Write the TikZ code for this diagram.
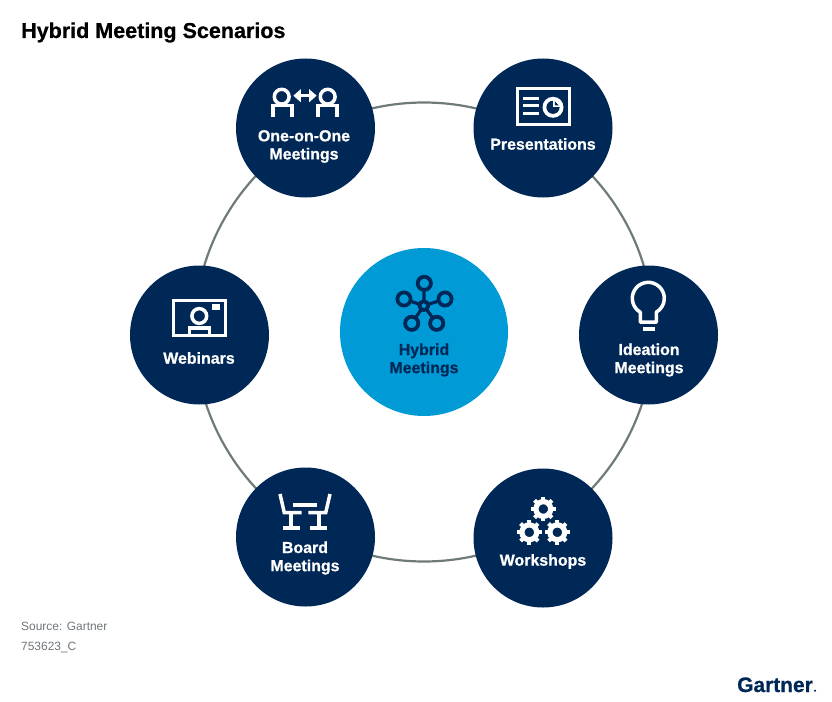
\documentclass[tikz,border=0pt]{standalone}
\usepackage{fontspec}
\setmainfont[BoldFeatures={FakeBold=0.7}]{Liberation Sans}
\definecolor{navy}{HTML}{002856}
\definecolor{sky}{HTML}{009AD7}
\definecolor{ringgray}{HTML}{6F7B78}
\definecolor{srcgray}{HTML}{70777C}
\tikzset{
  x=1bp,y=-1bp,
  hub/.style={circle,fill=navy,draw=none,minimum size=139bp,inner sep=0pt},
  core/.style={circle,fill=sky,draw=none,minimum size=168bp,inner sep=0pt},
  lab/.style={align=center,inner sep=0pt,text=white,font=\fontsize{16}{18.2}\selectfont\bfseries},
  labdark/.style={lab,text=navy},
  ico/.style={draw=white,line width=3.5bp,fill=none,line cap=butt,line join=miter},
  net/.style={draw=navy,line width=3.8bp,fill=none},
  src/.style={anchor=base west,inner sep=0pt,text=srcgray,font=\fontsize{12}{15}\selectfont},
}
\newcommand{\gearicon}[2]{%
  \draw[white,line width=5.2bp] (#1,#2) circle[radius=7.4];
  \foreach \a in {0,45,...,315}{
    \draw[white,line width=4bp] ($(#1,#2)+(\a:8)$) -- ($(#1,#2)+(\a:12.3)$);
  }
}
\usetikzlibrary{calc,arrows.meta}
\begin{document}
\begin{tikzpicture}
\useasboundingbox (0,0) rectangle (832,702);
\fill[white] (0,0) rectangle (832,702);
% ring
\node[circle,draw=ringgray,line width=2.2bp,minimum size=459bp,inner sep=0pt] (ring) at (424,332) {};
% circles
\node[core] (hybrid) at (424,332) {};
\node[hub] (one) at (305.5,128) {};
\node[hub] (pres) at (543,128) {};
\node[hub] (web) at (199.5,335) {};
\node[hub] (idea) at (648.5,335) {};
\node[hub] (board) at (305.5,537) {};
\node[hub] (work) at (543,538) {};
% title
\node[anchor=base west,inner sep=0pt,font=\fontsize{21.6}{24}\selectfont\bfseries,text=black] (title) at (21,38) {Hybrid Meeting Scenarios};
% labels
\node[lab] (lone) at (304,146.5) {One-on-One\\Meetings};
\node[lab] (lpres) at (543,144) {Presentations};
\node[lab] (lweb) at (199,358) {Webinars};
\node[lab] (lidea) at (649,360) {Ideation\\Meetings};
\node[lab] (lboard) at (305,558) {Board\\Meetings};
\node[lab] (lwork) at (543,561.5) {Workshops};
\node[labdark] (lhyb) at (424,360) {Hybrid\\Meetings};
% source
\node[src] (s1) at (21,630.5) {Source: Gartner};
\node[src] (s2) at (21,650.5) {753623\_C};
% logo
\node[anchor=base west,inner sep=0pt,text=navy,font=\fontsize{21}{26}\selectfont\bfseries] (logo) at (737,692) {Gartner};
\fill[navy] (815,690.7) circle[radius=1.2];
% one-on-one icon
\draw[ico] (281.7,96.7) circle[radius=7.4];
\draw[ico] (272.8,117) -- (272.8,105.7) -- (291.8,105.7) -- (291.8,117);
\draw[ico] (327.7,96.7) circle[radius=7.4];
\draw[ico] (318.2,117) -- (318.2,105.7) -- (337.2,105.7) -- (337.2,117);
\draw[white,line width=3bp,{Triangle[width=12.5bp,length=7.5bp]}-{Triangle[width=12.5bp,length=7.5bp]}] (293.3,95.7) -- (316.7,95.7);
% presentation icon
\draw[ico] (517.4,88.4) rectangle (569.6,124.3);
\foreach \yy in {98.3,105.9,114}{\draw[white,line width=3bp] (523,\yy) -- (539,\yy);}
\fill[white] (553,107.3) circle[radius=10.5];
\fill[navy] (553,107.3) circle[radius=6.6];
\fill[white] (553,107.3) -- (553,100) -- (560.5,100) -- (560.5,107.3) -- cycle;
\fill[navy] (554.8,105.5) -- (554.8,101.2) -- (558.8,105.5) -- cycle;
% webinar icon
\draw[ico] (173.4,300.7) rectangle (225.6,335.6);
\fill[white] (211.7,304) rectangle (220,310);
\draw[ico] (199.3,316) circle[radius=7.4];
\draw[ico] (189.5,335.8) -- (189.5,327.8) -- (209.5,327.8) -- (209.5,335.8);
% hybrid icon
\coordinate (hc) at (423.8,305.7);
\foreach \n/\px/\py in {a/424.3/283.3,b/404/299,c/445/299,d/411.7/323.3,e/436.7/323.3}{
  \draw[navy,line width=3.2bp] (hc) -- (\px,\py);
  \fill[sky] (\px,\py) circle[radius=6];
  \draw[net] (\px,\py) circle[radius=6.6];
}
\fill[sky] (hc) circle[radius=4];
\draw[net] (hc) circle[radius=4.4];
% bulb
\draw[ico,line join=round] (640.3,322.2) -- (640.3,312.2) arc[start angle=120,end angle=420,radius=16] -- (656.3,322.2) -- cycle;
\fill[white] (642.7,326.7) rectangle (655,330.7);
% board icon
\draw[ico] (280,494) -- (284.3,512.7) -- (301.7,512.7);
\draw[ico] (291,512.7) -- (291,528);
\draw[ico] (283.3,528) -- (300,528);
\draw[ico] (330,494) -- (325.7,512.7) -- (308.3,512.7);
\draw[ico] (319,512.7) -- (319,528);
\draw[ico] (310,528) -- (326.7,528);
\draw[ico] (293.3,505) -- (317.3,505);
% gears
\gearicon{543.3}{509}
\gearicon{529.3}{532.3}
\gearicon{557.3}{532.3}
\end{tikzpicture}
\end{document}
